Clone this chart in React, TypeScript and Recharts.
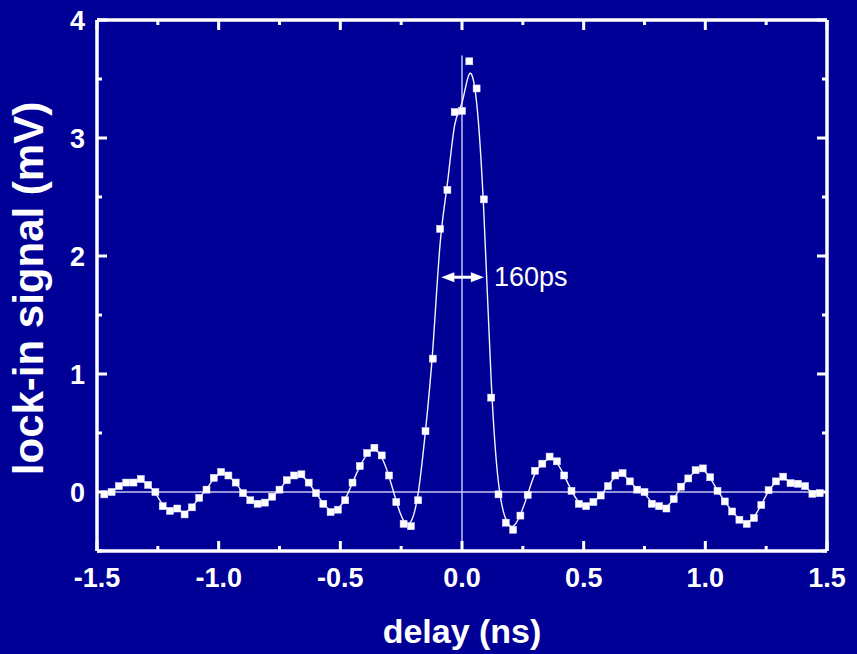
import React from 'react';
import { LineChart, Line, XAxis, YAxis, ReferenceLine } from 'recharts';

// delay (ns) of each measured point
const delay = [
  -1.47, -1.44, -1.41, -1.38, -1.35, -1.32, -1.29, -1.26, -1.23, -1.2,
  -1.17, -1.14, -1.11, -1.08, -1.05, -1.02, -0.99, -0.96, -0.93, -0.9,
  -0.87, -0.84, -0.81, -0.78, -0.75, -0.72, -0.69, -0.66, -0.63, -0.6,
  -0.57, -0.54, -0.51, -0.48, -0.45, -0.42, -0.39, -0.36, -0.33, -0.3,
  -0.27, -0.24, -0.21, -0.18, -0.15, -0.12, -0.09, -0.06, -0.03, 0,
  0.03, 0.06, 0.09, 0.12, 0.15, 0.18, 0.21, 0.24, 0.27, 0.3,
  0.33, 0.36, 0.39, 0.42, 0.45, 0.48, 0.51, 0.54, 0.57, 0.6,
  0.63, 0.66, 0.69, 0.72, 0.75, 0.78, 0.81, 0.84, 0.87, 0.9,
  0.93, 0.96, 0.99, 1.02, 1.05, 1.08, 1.11, 1.14, 1.17, 1.2,
  1.23, 1.26, 1.29, 1.32, 1.35, 1.38, 1.41, 1.44, 1.47,
];

// lock-in signal (mV)
const signal = [
  -0.02, 0.0, 0.05, 0.08, 0.08, 0.11, 0.06, 0.0, -0.12, -0.16,
  -0.14, -0.19, -0.13, -0.05, 0.02, 0.12, 0.17, 0.14, 0.08, -0.01,
  -0.07, -0.1, -0.09, -0.04, 0.02, 0.1, 0.14, 0.15, 0.08, -0.01,
  -0.1, -0.17, -0.15, -0.07, 0.08, 0.22, 0.33, 0.375, 0.31, 0.14,
  -0.085, -0.27, -0.29, -0.07, 0.515, 1.13, 2.23, 2.56, 3.22, 3.23,
  3.65, 3.42, 2.48, 0.8, -0.02, -0.26, -0.32, -0.2, -0.025, 0.18,
  0.24, 0.3, 0.26, 0.14, 0.01, -0.1, -0.12, -0.085, -0.03, 0.05,
  0.14, 0.16, 0.09, 0.02, 0.0, -0.1, -0.12, -0.14, -0.06, 0.045,
  0.115, 0.185, 0.2, 0.125, 0.01, -0.08, -0.165, -0.235, -0.27, -0.22,
  -0.11, 0.015, 0.09, 0.13, 0.075, 0.07, 0.05, -0.015, -0.01,
];

const xTicks = [-1.5, -1.25, -1, -0.75, -0.5, -0.25, 0, 0.25, 0.5, 0.75, 1, 1.25, 1.5];
const yTicks = [-0.5, 0, 0.5, 1, 1.5, 2, 2.5, 3, 3.5, 4];

// FWHM annotation
const fwhmX = [-0.085, 0.09];
const fwhmY = 1.82;
const fwhmLabel = '160ps';
const zeroLineTop = 3.7;

const data = delay.map((d, i) => ({ x: d, y: signal[i] }));

const BG = '#000096';
const FONT = '"Liberation Sans", Arial, Helvetica, sans-serif';

const isMajorX = (v: number) => Math.abs(v * 2 - Math.round(v * 2)) < 1e-6;
const isMajorY = (v: number) => Math.abs(v - Math.round(v)) < 1e-6;

const makeTick = (side: 'bottom' | 'top' | 'left' | 'right') => (props: any) => {
  const { x, y, payload } = props;
  const v = payload.value;
  const horiz = side === 'bottom' || side === 'top';
  const major = horiz ? isMajorX(v) : isMajorY(v);
  const len = major ? 10 : 5;
  let line;
  if (side === 'bottom') line = <line x1={x} y1={y} x2={x} y2={y - len} />;
  else if (side === 'top') line = <line x1={x} y1={y} x2={x} y2={y + len} />;
  else if (side === 'left') line = <line x1={x} y1={y} x2={x + len} y2={y} />;
  else line = <line x1={x} y1={y} x2={x - len} y2={y} />;
  let label = null;
  if (major && side === 'bottom') {
    label = (
      <text x={x} y={y + 36} textAnchor="middle" fill="#fff" fontSize={27} fontWeight="bold" fontFamily={FONT}>
        {v.toFixed(1)}
      </text>
    );
  }
  if (major && side === 'left') {
    label = (
      <text x={x - 12} y={y + 10} textAnchor="end" fill="#fff" fontSize={27} fontWeight="bold" fontFamily={FONT}>
        {String(v)}
      </text>
    );
  }
  return (
    <g>
      <g stroke="#fff" strokeWidth={3}>{line}</g>
      {label}
    </g>
  );
};

const Square = (props: any) => {
  const { cx, cy } = props;
  if (cx == null || cy == null) return null;
  return <rect x={cx - 3.5} y={cy - 3.5} width={7} height={7} fill="#fff" stroke="#e6e6ff" strokeWidth={0.5} />;
};

const Arrow = (props: any) => {
  const { x1, y1, x2 } = props;
  const head = 13;
  const hw = 5;
  return (
    <g>
      <line x1={x1 + head - 2} y1={y1} x2={x2 - head + 2} y2={y1} stroke="#fff" strokeWidth={3} />
      <polygon points={`${x1},${y1} ${x1 + head},${y1 - hw} ${x1 + head},${y1 + hw}`} fill="#fff" />
      <polygon points={`${x2},${y1} ${x2 - head},${y1 - hw} ${x2 - head},${y1 + hw}`} fill="#fff" />
      <text x={x2 + 10} y={y1 + 9} fill="#fff" fontSize={27} fontFamily={FONT}>
        {fwhmLabel}
      </text>
    </g>
  );
};

const XTitle = (props: any) => {
  const vb = props.viewBox || {};
  return (
    <text x={vb.x + vb.width / 2} y={vb.y + 92} textAnchor="middle" fill="#fff" fontSize={34} fontWeight="bold" fontFamily={FONT}>
      delay (ns)
    </text>
  );
};

const YTitle = (props: any) => {
  const vb = props.viewBox || {};
  const cx = 43;
  const cy = vb.y + vb.height / 2 + 3;
  return (
    <text x={cx} y={cy} transform={`rotate(-90, ${cx}, ${cy})`} textAnchor="middle" fill="#fff" fontSize={42} fontWeight="bold" fontFamily={FONT}>
      lock-in signal (mV)
    </text>
  );
};

export default function App() {
  return (
    <div style={{ position: 'fixed', left: 0, top: 0, width: 857, height: 654, background: BG }}>
      <LineChart width={857} height={654} data={data} margin={{ top: 10, right: 20, left: 0, bottom: 0 }}>
        <XAxis
          dataKey="x"
          type="number"
          domain={[-1.5, 1.5]}
          ticks={xTicks}
          interval={0}
          allowDataOverflow
          height={103}
          tickSize={0}
          tickMargin={0}
          tickLine={false}
          axisLine={{ stroke: '#fff', strokeWidth: 3.5 }}
          tick={makeTick('bottom')}
          label={{ content: XTitle }}
        />
        <XAxis
          xAxisId="top"
          orientation="top"
          dataKey="x"
          type="number"
          domain={[-1.5, 1.5]}
          ticks={xTicks}
          interval={0}
          allowDataOverflow
          height={10}
          tickSize={0}
          tickMargin={0}
          tickLine={false}
          axisLine={{ stroke: '#fff', strokeWidth: 3.5 }}
          tick={makeTick('top')}
        />
        <YAxis
          type="number"
          domain={[-0.5, 4]}
          ticks={yTicks}
          interval={0}
          allowDataOverflow
          width={97}
          tickSize={0}
          tickMargin={0}
          tickLine={false}
          axisLine={{ stroke: '#fff', strokeWidth: 3.5 }}
          tick={makeTick('left')}
          label={{ content: YTitle }}
        />
        <YAxis
          yAxisId="right"
          orientation="right"
          type="number"
          domain={[-0.5, 4]}
          ticks={yTicks}
          interval={0}
          allowDataOverflow
          width={10}
          tickSize={0}
          tickMargin={0}
          tickLine={false}
          axisLine={{ stroke: '#fff', strokeWidth: 3.5 }}
          tick={makeTick('right')}
        />
        <ReferenceLine y={0} stroke="#c4c4f0" strokeWidth={1.5} />
        <ReferenceLine
          segment={[{ x: 0, y: -0.5 }, { x: 0, y: zeroLineTop }]}
          stroke="#c4c4f0"
          strokeWidth={1.5}
        />
        <ReferenceLine
          segment={[{ x: fwhmX[0], y: fwhmY }, { x: fwhmX[1], y: fwhmY }]}
          shape={Arrow}
        />
        <Line
          xAxisId="top"
          yAxisId="right"
          dataKey="y"
          stroke="none"
          dot={false}
          activeDot={false}
          legendType="none"
          isAnimationActive={false}
        />
        <Line
          type="basis"
          dataKey="y"
          stroke="#f4f4ff"
          strokeWidth={1.4}
          dot={<Square />}
          activeDot={false}
          isAnimationActive={false}
        />
      </LineChart>
    </div>
  );
}
